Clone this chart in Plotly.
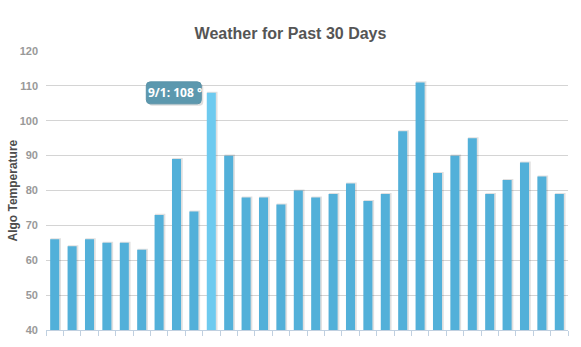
import plotly.graph_objects as go

# Daily readings, 8/23 through 9/21
days = ["8/23", "8/24", "8/25", "8/26", "8/27", "8/28", "8/29", "8/30", "8/31", "9/1",
        "9/2", "9/3", "9/4", "9/5", "9/6", "9/7", "9/8", "9/9", "9/10", "9/11",
        "9/12", "9/13", "9/14", "9/15", "9/16", "9/17", "9/18", "9/19", "9/20", "9/21"]
temps = [66, 64, 66, 65, 65, 63, 73, 89, 74, 108,
         90, 78, 78, 76, 80, 78, 79, 82, 77, 79,
         97, 111, 85, 90, 95, 79, 83, 88, 84, 79]
highlight_day = "9/1"
y_ticks = [40, 50, 60, 70, 80, 90, 100, 110, 120]

base_color = "#52b0d9"
hover_color = "#6dcaef"
colors = [hover_color if d == highlight_day else base_color for d in days]

bar_w = 0.52
fig = go.Figure()
# soft drop shadow behind each column
fig.add_trace(go.Bar(
    x=days, y=[t + 0.3 for t in temps], base=0,
    width=bar_w + 0.08, offset=-bar_w / 2 + 0.02,
    marker=dict(color="rgba(0,0,0,0.12)", line=dict(width=0)),
    hoverinfo="skip", showlegend=False,
))
fig.add_trace(go.Bar(
    x=days, y=temps, base=0,
    width=bar_w, offset=-bar_w / 2,
    marker=dict(color=colors, line=dict(width=0)),
    showlegend=False,
))

hi_val = temps[days.index(highlight_day)]


def rounded_box(x0, x1, y0, y1, r):
    return (f"M {x0 + r},{y0} L {x1 - r},{y0} Q {x1},{y0} {x1},{y0 + r} "
            f"L {x1},{y1 - r} Q {x1},{y1} {x1 - r},{y1} L {x0 + r},{y1} "
            f"Q {x0},{y1} {x0},{y1 - r} L {x0},{y0 + r} Q {x0},{y0} {x0 + r},{y0} Z")


# tooltip box, anchored to the highlighted column (pixel offsets from the value)
box = dict(x0=-65, x1=-10, y0=-11, y1=11, r=4)
fig.add_shape(type="path", xref="x", yref="y", xsizemode="pixel", ysizemode="pixel",
              xanchor=highlight_day, yanchor=hi_val,
              path=rounded_box(box["x0"] + 2, box["x1"] + 2, box["y0"] - 2, box["y1"] - 2, box["r"]),
              fillcolor="rgba(0,0,0,0.13)", line=dict(width=0), layer="above")
fig.add_shape(type="path", xref="x", yref="y", xsizemode="pixel", ysizemode="pixel",
              xanchor=highlight_day, yanchor=hi_val,
              path=rounded_box(box["x0"], box["x1"], box["y0"], box["y1"], box["r"]),
              fillcolor="#5c98ae", line=dict(color="#5a93a8", width=1), layer="above")
fig.add_annotation(
    x=highlight_day, y=hi_val, xref="x", yref="y",
    text=f"<b>{highlight_day}: {hi_val} °</b>", showarrow=False,
    xanchor="center", yanchor="middle", xshift=(box["x0"] + box["x1"]) / 2 + 1,
    font=dict(family="Open Sans, Arial, sans-serif", size=12, color="white"),
)

# vertical axis caption
fig.add_annotation(
    x=0, y=0.5, xref="paper", yref="paper", xshift=-34,
    text="<b>Algo Temperature</b>", textangle=-90, showarrow=False,
    xanchor="center", yanchor="middle",
    font=dict(family="Liberation Sans, Arial, sans-serif", size=12, color="#4d4d4d"),
)

fig.update_layout(
    width=581, height=347,
    margin=dict(l=46, r=13, t=51, b=17),
    paper_bgcolor="white", plot_bgcolor="white",
    barmode="overlay",
    title=dict(text="<b>Weather for Past 30 Days</b>", x=0.5, xanchor="center",
               y=0.905, yanchor="middle",
               font=dict(family="Liberation Sans, Arial, sans-serif", size=16, color="#555555")),
    xaxis=dict(
        type="category", showticklabels=False, showgrid=False,
        tickson="boundaries", ticks="outside", ticklen=5, tickcolor="#c0d0e0",
        showline=True, linecolor="#c0d0e0", linewidth=1,
        range=[-0.5, len(days) - 0.5], automargin=False,
    ),
    yaxis=dict(
        range=[40, 120], tickvals=y_ticks, ticktext=[f"<b>{v}</b>" for v in y_ticks],
        showgrid=True, gridcolor="#d4d4d4", gridwidth=1, zeroline=False,
        ticks="", ticklabelstandoff=7, automargin=False,
        tickfont=dict(family="Liberation Sans, Arial, sans-serif", size=11, color="#999999"),
    ),
)

fig.write_html("out.html")
